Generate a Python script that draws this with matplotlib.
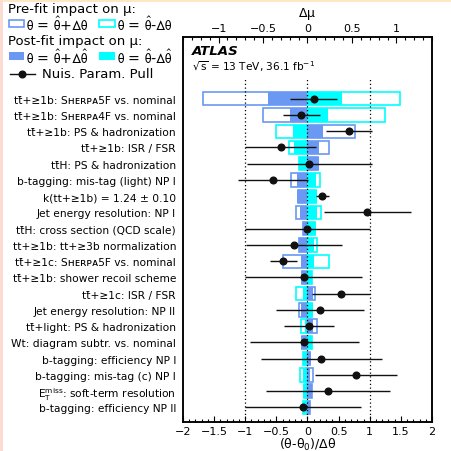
import numpy as np
import matplotlib.pyplot as plt
from matplotlib.patches import Rectangle
from matplotlib.lines import Line2D
from matplotlib.ticker import MultipleLocator, FuncFormatter

plt.rcParams['font.family'] = ['DejaVu Sans']
plt.rcParams['mathtext.fontset'] = 'dejavusans'
plt.rcParams['mathtext.default'] = 'rm'

# nuisance parameters, ranked by post-fit impact (top row first)
labels = [
    'tt\u0304+\u22651b: S\u029c\u1d07\u0280\u1d18\u1d005F vs. nominal',
    'tt\u0304+\u22651b: S\u029c\u1d07\u0280\u1d18\u1d004F vs. nominal',
    'tt\u0304+\u22651b: PS & hadronization',
    'tt\u0304+\u22651b: ISR / FSR',
    'tt\u0304H: PS & hadronization',
    'b-tagging: mis-tag (light) NP I',
    'k(tt+\u22651b) = 1.24 \u00b1 0.10',
    'Jet energy resolution: NP I',
    'tt\u0304H: cross section (QCD scale)',
    'tt+\u22651b: tt+\u22653b normalization',
    'tt\u0304+\u22651c: S\u029c\u1d07\u0280\u1d18\u1d005F vs. nominal',
    'tt\u0304+\u22651b: shower recoil scheme',
    'tt\u0304+\u22651c: ISR / FSR',
    'Jet energy resolution: NP II',
    'tt\u0304+light: PS & hadronization',
    'Wt: diagram subtr. vs. nominal',
    'b-tagging: efficiency NP I',
    'b-tagging: mis-tag (c) NP I',
    r'$E_T^{miss}$: soft-term resolution',
    'b-tagging: efficiency NP II',
]

# impact on mu (delta mu)
pre_up = [-1.17, -0.50, 0.53, 0.245, 0.12, -0.187, -0.11, -0.133, -0.05, -0.098,
          -0.28, -0.065, 0.087, -0.095, 0.106, -0.065, 0.03, 0.06, 0.045, 0.025]
pre_down = [1.035, 0.87, -0.35, -0.21, -0.09, 0.143, 0.10, 0.151, 0.085, 0.106,
            0.246, 0.045, -0.128, 0.05, -0.071, 0.045, -0.045, -0.082, -0.04, -0.045]
post_up = [-0.447, -0.195, 0.17, 0.124, 0.132, -0.12, -0.12, -0.085, -0.056, -0.10,
           -0.075, -0.07, 0.06, -0.07, 0.06, -0.07, 0.035, 0.03, 0.05, 0.03]
post_down = [0.388, 0.23, -0.158, -0.147, -0.10, 0.095, 0.106, 0.11, 0.095, 0.076,
             0.078, 0.05, -0.045, 0.06, -0.026, 0.05, -0.05, -0.052, -0.045, -0.05]

# pulls (theta - theta0)/dtheta and their post-fit errors
pull = [0.10, -0.10, 0.67, -0.43, 0.03, -0.55, 0.24, 0.96, 0.0, -0.22,
        -0.39, -0.06, 0.54, 0.20, 0.03, -0.05, 0.22, 0.78, 0.33, -0.07]
pull_err = [0.38, 0.30, 0.37, 0.57, 1.0, 0.565, 0.10, 0.70, 1.0, 0.77,
            0.22, 0.94, 0.46, 0.70, 0.40, 0.88, 0.97, 0.66, 1.0, 0.93]

blue = '#6a98f2'
cyan = '#00ffff'
W = H = 452.0

n = len(labels)
ypos = np.arange(n)[::-1]
ylo, yhi = -0.9, n - 1 + 3.8

fig = plt.figure(figsize=(4.52, 4.52), dpi=100)
fig.patch.set_facecolor('white')
fig.add_artist(Rectangle((0, 1 - 3 / H), 1, 3 / H, transform=fig.transFigure,
                         facecolor='#fde7c4', edgecolor='none'))
fig.add_artist(Rectangle((0, 0), 3 / W, 1, transform=fig.transFigure,
                         facecolor='#fcdcd2', edgecolor='none'))

rect = [183 / W, 29 / H, 249 / W, 385 / H]
ax_imp = fig.add_axes(rect)
ax = fig.add_axes(rect, zorder=2)
ax.patch.set_visible(False)

# impact boxes
bh = 0.82
ax_imp.barh(ypos, pre_up, height=bh, color='white', edgecolor=blue, linewidth=1.2)
ax_imp.barh(ypos, pre_down, height=bh, color='white', edgecolor=cyan, linewidth=1.2)
ax_imp.barh(ypos, post_up, height=bh, color=blue, linewidth=0)
ax_imp.barh(ypos, post_down, height=bh, color=cyan, linewidth=0)

fmt = FuncFormatter(lambda v, p: f'{round(v, 3) + 0:g}'.replace('-', '\u2212'))

ax_imp.set_xlim(-1.4, 1.4)
ax_imp.set_ylim(ylo, yhi)
ax_imp.xaxis.tick_top()
ax_imp.xaxis.set_label_position('top')
ax_imp.xaxis.set_major_locator(MultipleLocator(0.5))
ax_imp.xaxis.set_minor_locator(MultipleLocator(0.1))
ax_imp.xaxis.set_major_formatter(fmt)
ax_imp.tick_params(axis='x', which='both', direction='in', top=True, bottom=False,
                   labelsize=8, pad=3)
ax_imp.tick_params(axis='x', which='major', length=4, width=0.8)
ax_imp.tick_params(axis='x', which='minor', length=2, width=0.8)
ax_imp.set_yticks([])
ax_imp.set_xlabel(r'$\Delta\mu$', fontsize=9, labelpad=5)

# pulls
ax.vlines([-1, 0, 1], ylo, n - 1 + 1.3, colors='black', linestyles=(0, (1, 2)),
          linewidth=0.9, zorder=3)
ax.errorbar(pull, ypos, xerr=pull_err, fmt='o', color='#111111', ms=4.8,
            elinewidth=1.0, capsize=0, zorder=4)

ax.set_xlim(-2, 2)
ax.set_ylim(ylo, yhi)
ax.xaxis.set_major_locator(MultipleLocator(0.5))
ax.xaxis.set_minor_locator(MultipleLocator(0.1))
ax.xaxis.set_major_formatter(fmt)
ax.tick_params(axis='x', which='both', direction='in', top=False, bottom=True,
               labelsize=8, pad=3)
ax.tick_params(axis='x', which='major', length=4, width=0.8)
ax.tick_params(axis='x', which='minor', length=2, width=0.8)
ax.set_yticks(ypos)
ax.set_yticklabels(labels, fontsize=7.7)
ax.tick_params(axis='y', length=0, pad=5)
ax.set_xlabel(r'($\theta$-$\theta_0$)/$\Delta\theta$', fontsize=9, labelpad=0)

for a in (ax, ax_imp):
    for s in a.spines.values():
        s.set_linewidth(1.1)

ax.text(0.036, 0.964, 'ATLAS', transform=ax.transAxes, fontsize=9.6,
        fontweight='bold', fontstyle='italic', va='center')
ax.text(0.036, 0.926, r'$\sqrt{s}$ = 13 TeV, 36.1 fb$^{-1}$', transform=ax.transAxes,
        fontsize=7.6, va='center')

# legend
def fx(x):
    return x / W

def fy(y):
    return 1 - y / H

hat_kw = dict(fontsize=10.2, va='center', math_fontfamily='stixsans')

fig.text(fx(8), fy(10), 'Pre-fit impact on \u03bc:', fontsize=9.5, va='center')
fig.add_artist(Rectangle((fx(8.5), fy(28)), 15 / W, 7 / H, transform=fig.transFigure,
                         facecolor='white', edgecolor=blue, linewidth=1.2))
fig.text(fx(26), fy(24.5), r'$\theta$ = $\hat{\theta}$+$\Delta\theta$', **hat_kw)
fig.add_artist(Rectangle((fx(99.5), fy(28)), 15 / W, 7 / H, transform=fig.transFigure,
                         facecolor='white', edgecolor=cyan, linewidth=1.2))
fig.text(fx(117), fy(24.5), r'$\theta$ = $\hat{\theta}$-$\Delta\theta$', **hat_kw)

fig.text(fx(8), fy(42), 'Post-fit impact on \u03bc:', fontsize=9.5, va='center')
fig.add_artist(Rectangle((fx(8.5), fy(61)), 15 / W, 8 / H, transform=fig.transFigure,
                         facecolor=blue, edgecolor='none'))
fig.text(fx(26), fy(57.5), r'$\theta$ = $\hat{\theta}$+$\Delta\hat{\theta}$', **hat_kw)
fig.add_artist(Rectangle((fx(99.5), fy(61)), 15 / W, 8 / H, transform=fig.transFigure,
                         facecolor=cyan, edgecolor='none'))
fig.text(fx(117), fy(57.5), r'$\theta$ = $\hat{\theta}$-$\Delta\hat{\theta}$', **hat_kw)

fig.add_artist(Line2D([fx(10), fx(35)], [fy(75), fy(75)], transform=fig.transFigure,
                      color='#111111', linewidth=1.0))
fig.add_artist(Line2D([fx(22.5)], [fy(75)], transform=fig.transFigure, marker='o',
                      color='#111111', ms=4.8))
fig.text(fx(42), fy(75), 'Nuis. Param. Pull', fontsize=9.5, va='center')

fig.savefig('out.png', dpi=100)
